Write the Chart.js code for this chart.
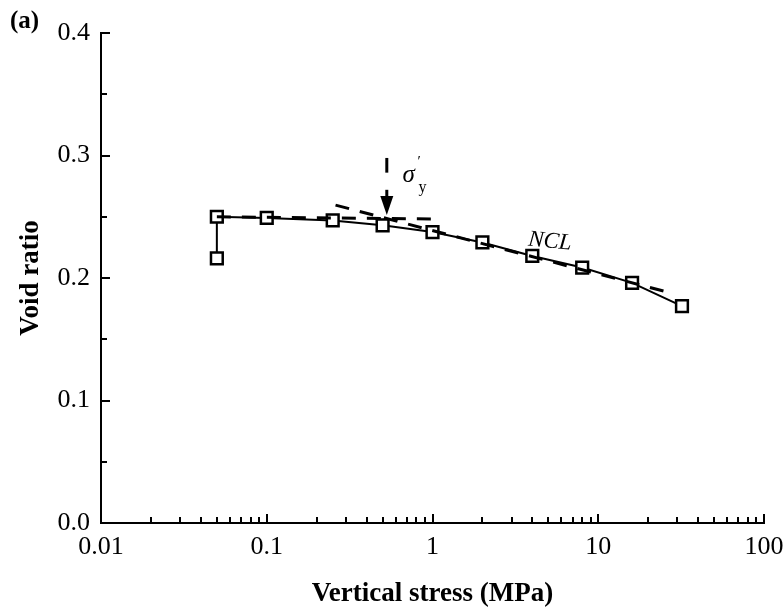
<!DOCTYPE html>
<html>
<head>
<meta charset="utf-8">
<script src="https://cdn.jsdelivr.net/npm/chart.js@4.4.0/dist/chart.umd.min.js"></script>
<style>
  html, body { margin: 0; padding: 0; background: #fff; overflow: hidden; }
  #wrap { width: 784px; height: 613px; }
  canvas { display: block; }
</style>
</head>
<body>
<div id="wrap"><canvas id="chart"></canvas></div>
<script>
// measured points (vertical stress in MPa, void ratio)
const stress = [0.05, 0.05, 0.1, 0.25, 0.5, 1, 2, 4, 8, 16, 32];
const voidRatio = [0.216, 0.250, 0.249, 0.247, 0.243, 0.2375, 0.229, 0.218, 0.2085, 0.196, 0.177];

// construction lines
const preYieldX = [0.05, 1.06];
const preYieldY = [0.2500, 0.2482];
const nclX = [0.26, 27];
const nclY = [0.2595, 0.188];

// yield stress arrow
const yieldStress = 0.53;
const arrowDashY = [0.298, 0.286];
const arrowY = [0.272, 0.2515];

const xDecades = [0.01, 0.1, 1, 10, 100];
const yTicks = [0, 0.05, 0.1, 0.15, 0.2, 0.25, 0.3, 0.35, 0.4];

const serif = '"Liberation Serif", "Times New Roman", serif';

const pts = (xs, ys) => xs.map((x, i) => ({ x: x, y: ys[i] }));

// inward ticks, panel label, arrow and text notes
const extras = {
    id: 'extras',
    afterDraw(chart) {
        const ctx = chart.ctx;
        const area = chart.chartArea;
        const xs = chart.scales.x;
        const ys = chart.scales.y;
        ctx.save();
        ctx.strokeStyle = '#000';
        ctx.lineWidth = 2;

        xs.ticks.forEach(t => {
            const px = Math.round(xs.getPixelForValue(t.value));
            const major = xDecades.includes(t.value);
            ctx.beginPath();
            ctx.moveTo(px, area.bottom);
            ctx.lineTo(px, area.bottom - (major ? 9 : 6));
            ctx.stroke();
        });
        ys.ticks.forEach(t => {
            const py = Math.round(ys.getPixelForValue(t.value));
            const major = Math.abs(t.value * 10 - Math.round(t.value * 10)) < 1e-6;
            ctx.beginPath();
            ctx.moveTo(area.left, py);
            ctx.lineTo(area.left + (major ? 9 : 6), py);
            ctx.stroke();
        });

        // yield arrow
        const ax = xs.getPixelForValue(yieldStress);
        ctx.lineWidth = 3;
        ctx.beginPath();
        ctx.moveTo(ax, ys.getPixelForValue(arrowDashY[0]));
        ctx.lineTo(ax, ys.getPixelForValue(arrowDashY[1]));
        ctx.stroke();
        const a0 = ys.getPixelForValue(arrowY[0]);
        const a1 = ys.getPixelForValue(arrowY[1]);
        ctx.beginPath();
        ctx.moveTo(ax, a0);
        ctx.lineTo(ax, a1 - 16);
        ctx.stroke();
        ctx.fillStyle = '#000';
        ctx.beginPath();
        ctx.moveTo(ax - 6.5, a1 - 19);
        ctx.lineTo(ax + 6.5, a1 - 19);
        ctx.lineTo(ax, a1);
        ctx.closePath();
        ctx.fill();

        // sigma'_y
        ctx.fillStyle = '#000';
        ctx.textBaseline = 'alphabetic';
        ctx.textAlign = 'left';
        const sx = xs.getPixelForValue(0.66);
        const sy = ys.getPixelForValue(0.2784);
        ctx.font = 'italic 25px ' + serif;
        ctx.fillText('\u03C3', sx, sy);
        ctx.font = '15px ' + serif;
        ctx.fillText('\u2032', sx + 15, sy - 16);
        ctx.font = '16px ' + serif;
        ctx.fillText('y', sx + 16, sy + 10);

        // NCL
        const nx = xs.getPixelForValue(3.75);
        const ny = ys.getPixelForValue(0.2265);
        ctx.save();
        ctx.translate(nx, ny);
        ctx.rotate(0.1);
        ctx.font = 'italic 23px ' + serif;
        ctx.fillText('NCL', 0, 0);
        ctx.restore();

        // panel label
        ctx.font = 'bold 25px ' + serif;
        ctx.fillText('(a)', 10, 28);
        ctx.restore();
    }
};

const chart = new Chart(document.getElementById('chart'), {
    type: 'scatter',
    data: {
        datasets: [
            {
                data: pts(preYieldX, preYieldY),
                showLine: true,
                borderColor: '#000',
                borderWidth: 3,
                borderDash: [14, 11],
                pointRadius: 0
            },
            {
                data: pts(nclX, nclY),
                showLine: true,
                borderColor: '#000',
                borderWidth: 3,
                borderDash: [14, 11],
                pointRadius: 0
            },
            {
                data: pts(stress, voidRatio),
                showLine: true,
                borderColor: '#000',
                borderWidth: 2,
                pointStyle: 'rect',
                pointRadius: 8.3,
                pointBorderWidth: 2.5,
                pointBorderColor: '#000',
                pointBackgroundColor: '#fff'
            }
        ]
    },
    options: {
        responsive: true,
        maintainAspectRatio: false,
        animation: false,
        layout: { padding: { top: 33, right: 20, left: 0, bottom: 0 } },
        plugins: {
            legend: { display: false },
            tooltip: { enabled: false }
        },
        scales: {
            x: {
                type: 'logarithmic',
                min: 0.01,
                max: 100,
                afterBuildTicks: scale => {
                    const list = [];
                    for (let d = 0; d < xDecades.length - 1; d++) {
                        for (let m = 1; m < 10; m++) {
                            list.push(+(xDecades[d] * m).toPrecision(3));
                        }
                    }
                    list.push(xDecades[xDecades.length - 1]);
                    scale.ticks = list.map(v => ({ value: v }));
                },
                afterFit: scale => {
                    scale.height = 90;
                    scale.paddingLeft = 0;
                    scale.paddingRight = 0;
                },
                grid: { display: false, drawTicks: false },
                border: { display: true, color: '#000', width: 2 },
                ticks: {
                    autoSkip: false,
                    maxRotation: 0,
                    padding: 9,
                    color: '#000',
                    font: { family: serif, size: 26 },
                    callback: v => xDecades.includes(v) ? String(v) : ''
                },
                title: {
                    display: true,
                    text: 'Vertical stress (MPa)',
                    color: '#000',
                    font: { family: serif, size: 27, weight: 'bold' },
                    padding: { top: 0, bottom: 3 }
                }
            },
            y: {
                min: 0,
                max: 0.4,
                afterBuildTicks: scale => {
                    scale.ticks = yTicks.map(v => ({ value: v }));
                },
                afterFit: scale => {
                    scale.width = 101;
                    scale.paddingTop = 0;
                    scale.paddingBottom = 0;
                },
                grid: { display: false, drawTicks: false },
                border: { display: true, color: '#000', width: 2 },
                ticks: {
                    padding: 11,
                    color: '#000',
                    font: { family: serif, size: 26 },
                    callback: v => {
                        const r = Math.round(v * 10);
                        return Math.abs(v * 10 - r) < 1e-6 ? (r / 10).toFixed(1) : '';
                    }
                },
                title: {
                    display: true,
                    text: 'Void ratio',
                    color: '#000',
                    font: { family: serif, size: 27, weight: 'bold' },
                    padding: { top: 15, bottom: 0 }
                }
            }
        }
    },
    plugins: [extras]
});
</script>
</body>
</html>
